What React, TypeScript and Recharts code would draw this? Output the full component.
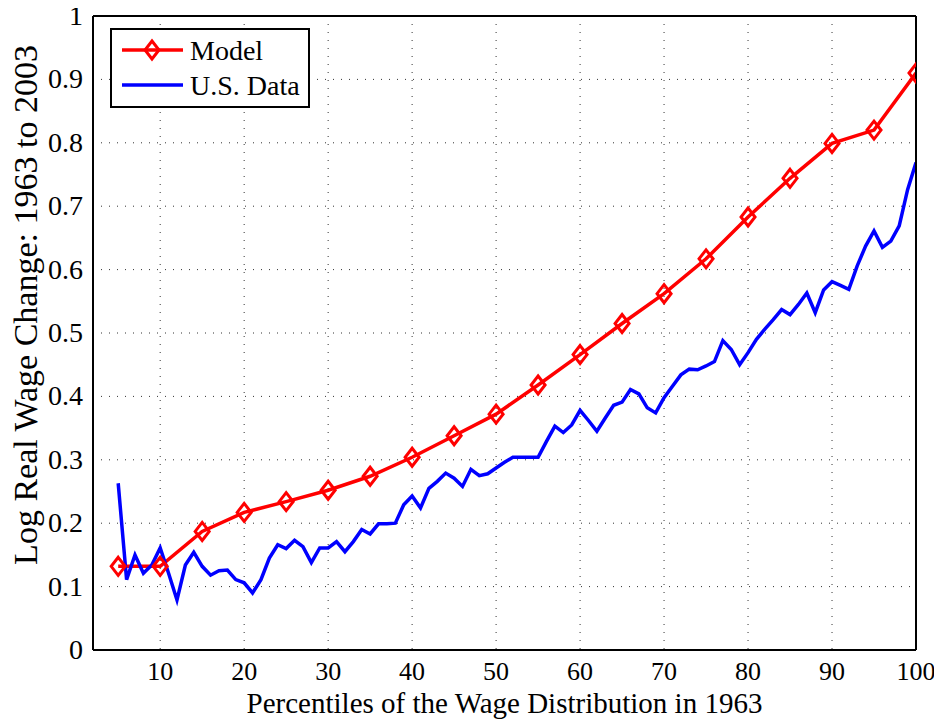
import React from 'react';
import { LineChart, Line, XAxis, YAxis, CartesianGrid, Legend, Label } from 'recharts';

const modelPercentiles = [5, 10, 15, 20, 25, 30, 35, 40, 45, 50, 55, 60, 65, 70, 75, 80, 85, 90, 95, 100];
const modelValues = [0.132, 0.132, 0.187, 0.217, 0.234, 0.252, 0.274, 0.304, 0.338, 0.372, 0.418, 0.466, 0.515, 0.562, 0.617, 0.683, 0.744, 0.799, 0.820, 0.910];

const dataPercentiles = [
  5, 6, 7, 8, 9, 10, 11, 12, 13, 14, 15, 16, 17, 18, 19, 20, 21, 22, 23, 24,
  25, 26, 27, 28, 29, 30, 31, 32, 33, 34, 35, 36, 37, 38, 39, 40, 41, 42, 43, 44,
  45, 46, 47, 48, 49, 50, 51, 52, 53, 54, 55, 56, 57, 58, 59, 60, 61, 62, 63, 64,
  65, 66, 67, 68, 69, 70, 71, 72, 73, 74, 75, 76, 77, 78, 79, 80, 81, 82, 83, 84,
  85, 86, 87, 88, 89, 90, 91, 92, 93, 94, 95, 96, 97, 98, 99, 100,
];
const dataValues = [
  0.263, 0.111, 0.150, 0.121, 0.134, 0.161, 0.121, 0.079, 0.134, 0.154,
  0.132, 0.118, 0.125, 0.126, 0.111, 0.106, 0.090, 0.111, 0.145, 0.166,
  0.160, 0.173, 0.163, 0.138, 0.161, 0.161, 0.171, 0.155, 0.171, 0.190,
  0.183, 0.199, 0.199, 0.200, 0.229, 0.243, 0.224, 0.255, 0.266, 0.279,
  0.271, 0.258, 0.285, 0.275, 0.278, 0.287, 0.296, 0.304, 0.304, 0.304,
  0.304, 0.329, 0.353, 0.343, 0.355, 0.378, 0.362, 0.345, 0.366, 0.386,
  0.391, 0.411, 0.404, 0.382, 0.374, 0.398, 0.416, 0.434, 0.443, 0.442,
  0.448, 0.455, 0.488, 0.474, 0.450, 0.469, 0.490, 0.506, 0.521, 0.537,
  0.529, 0.545, 0.563, 0.532, 0.568, 0.581, 0.575, 0.569, 0.606, 0.637,
  0.661, 0.635, 0.645, 0.669, 0.726, 0.769,
];

const xTicks = [10, 20, 30, 40, 50, 60, 70, 80, 90, 100];
const yTicks = [0, 0.1, 0.2, 0.3, 0.4, 0.5, 0.6, 0.7, 0.8, 0.9, 1];
const yTickLabels = ['0', '0.1', '0.2', '0.3', '0.4', '0.5', '0.6', '0.7', '0.8', '0.9', '1'];

const modelSeries = modelPercentiles.map((p, i) => ({ p, v: modelValues[i] }));
const usSeries = dataPercentiles.map((p, i) => ({ p, v: dataValues[i] }));

const FONT = '"Liberation Serif", "Times New Roman", Times, serif';
const RED = '#ff0000';
const BLUE = '#0000ff';

const Diamond = (props: any) => {
  const { cx, cy } = props;
  if (cx == null || cy == null) return null;
  return (
    <polygon
      points={`${cx},${cy - 9} ${cx + 7},${cy} ${cx},${cy + 9} ${cx - 7},${cy}`}
      fill="none"
      stroke={RED}
      strokeWidth={3}
    />
  );
};

const XTick = (props: any) => {
  const { x, y, payload } = props;
  return (
    <text x={x} y={y} dy={19} textAnchor="middle" fontFamily={FONT} fontSize={26} fill="#000">
      {String(payload.value)}
    </text>
  );
};

const YTick = (props: any) => {
  const { x, y, payload } = props;
  const i = yTicks.indexOf(payload.value);
  return (
    <text x={x} y={y} dy={9} textAnchor="end" fontFamily={FONT} fontSize={28} fill="#000">
      {i >= 0 ? yTickLabels[i] : String(payload.value)}
    </text>
  );
};

const LegendBox = () => (
  <svg width={200} height={80} style={{ display: 'block' }}>
    <rect x={1} y={1} width={198} height={78} fill="#fff" stroke="#000" strokeWidth={2} />
    <line x1={12} y1={22} x2={73} y2={22} stroke={RED} strokeWidth={3.5} />
    <polygon points="42,13 49,22 42,31 35,22" fill="none" stroke={RED} strokeWidth={3} />
    <text x={80} y={22} dominantBaseline="central" fontFamily={FONT} fontSize={28} fill="#000">Model</text>
    <line x1={12} y1={57} x2={73} y2={57} stroke={BLUE} strokeWidth={3.5} />
    <text x={80} y={57} dominantBaseline="central" fontFamily={FONT} fontSize={28} fill="#000">U.S. Data</text>
  </svg>
);

const YLabel = (props: any) => {
  const vb = props.viewBox || { x: 8, y: 16, width: 85, height: 634 };
  const x = vb.x + 17;
  const y = vb.y + vb.height / 2 - 28;
  return (
    <text
      x={x}
      y={y}
      transform={`rotate(-90 ${x} ${y})`}
      textAnchor="middle"
      dominantBaseline="central"
      fontFamily={FONT}
      fontSize={34}
      fill="#000"
    >
      Log Real Wage Change: 1963 to 2003
    </text>
  );
};

const XLabel = (props: any) => {
  const vb = props.viewBox || { x: 93, y: 650, width: 823, height: 73 };
  const x = vb.x + vb.width / 2;
  const y = vb.y + 63;
  return (
    <text x={x} y={y} textAnchor="middle" fontFamily={FONT} fontSize={29} fill="#000">
      Percentiles of the Wage Distribution in 1963
    </text>
  );
};

const axisLineStyle = { stroke: '#000', strokeWidth: 2 };
const innerTickLine = { stroke: '#000', strokeWidth: 1.5 };

export default function App() {
  return (
    <div style={{ width: 942, height: 723, background: '#fff', margin: '-8px 0 0 -8px', position: 'relative' }}>
      <LineChart width={942} height={723} margin={{ top: 16, right: 26, left: 8, bottom: 0 }}>
        <CartesianGrid stroke="#333" strokeDasharray="1 7" strokeWidth={1} />
        <XAxis
          dataKey="p"
          type="number"
          domain={[2, 100]}
          allowDataOverflow
          ticks={xTicks}
          tickLine={false}
          axisLine={axisLineStyle}
          tick={<XTick />}
          tickSize={8}
          tickMargin={3}
          height={73}
          label={<Label content={XLabel} />}
        />
        <XAxis
          xAxisId="topIn"
          orientation="top"
          mirror
          type="number"
          domain={[2, 100]}
          allowDataOverflow
          ticks={xTicks}
          tick={false}
          tickSize={8}
          tickLine={innerTickLine}
          axisLine={axisLineStyle}
          height={1}
        />
        <XAxis
          xAxisId="bottomIn"
          orientation="bottom"
          mirror
          type="number"
          domain={[2, 100]}
          allowDataOverflow
          ticks={xTicks}
          tick={false}
          tickSize={8}
          tickLine={innerTickLine}
          axisLine={false}
          height={1}
        />
        <YAxis
          type="number"
          domain={[0, 1]}
          allowDataOverflow
          ticks={yTicks}
          tickLine={false}
          axisLine={axisLineStyle}
          tick={<YTick />}
          tickSize={8}
          tickMargin={2}
          width={85}
          label={<Label content={YLabel} />}
        />
        <YAxis
          yAxisId="rightIn"
          orientation="right"
          mirror
          type="number"
          domain={[0, 1]}
          allowDataOverflow
          ticks={yTicks}
          tick={false}
          tickSize={8}
          tickLine={innerTickLine}
          axisLine={axisLineStyle}
          width={1}
        />
        <YAxis
          yAxisId="leftIn"
          orientation="left"
          mirror
          type="number"
          domain={[0, 1]}
          allowDataOverflow
          ticks={yTicks}
          tick={false}
          tickSize={8}
          tickLine={innerTickLine}
          axisLine={false}
          width={1}
        />
        <Legend
          layout="vertical"
          align="center"
          verticalAlign="middle"
          content={() => <LegendBox />}
          wrapperStyle={{ position: 'absolute', left: 110, top: 28, width: 200, height: 80 }}
        />
        <Line
          data={modelSeries}
          dataKey="v"
          type="linear"
          stroke={RED}
          strokeWidth={3.5}
          dot={<Diamond />}
          activeDot={false}
          isAnimationActive={false}
        />
        <Line
          data={usSeries}
          dataKey="v"
          type="linear"
          stroke={BLUE}
          strokeWidth={3.5}
          dot={false}
          activeDot={false}
          isAnimationActive={false}
        />
      </LineChart>
    </div>
  );
}
